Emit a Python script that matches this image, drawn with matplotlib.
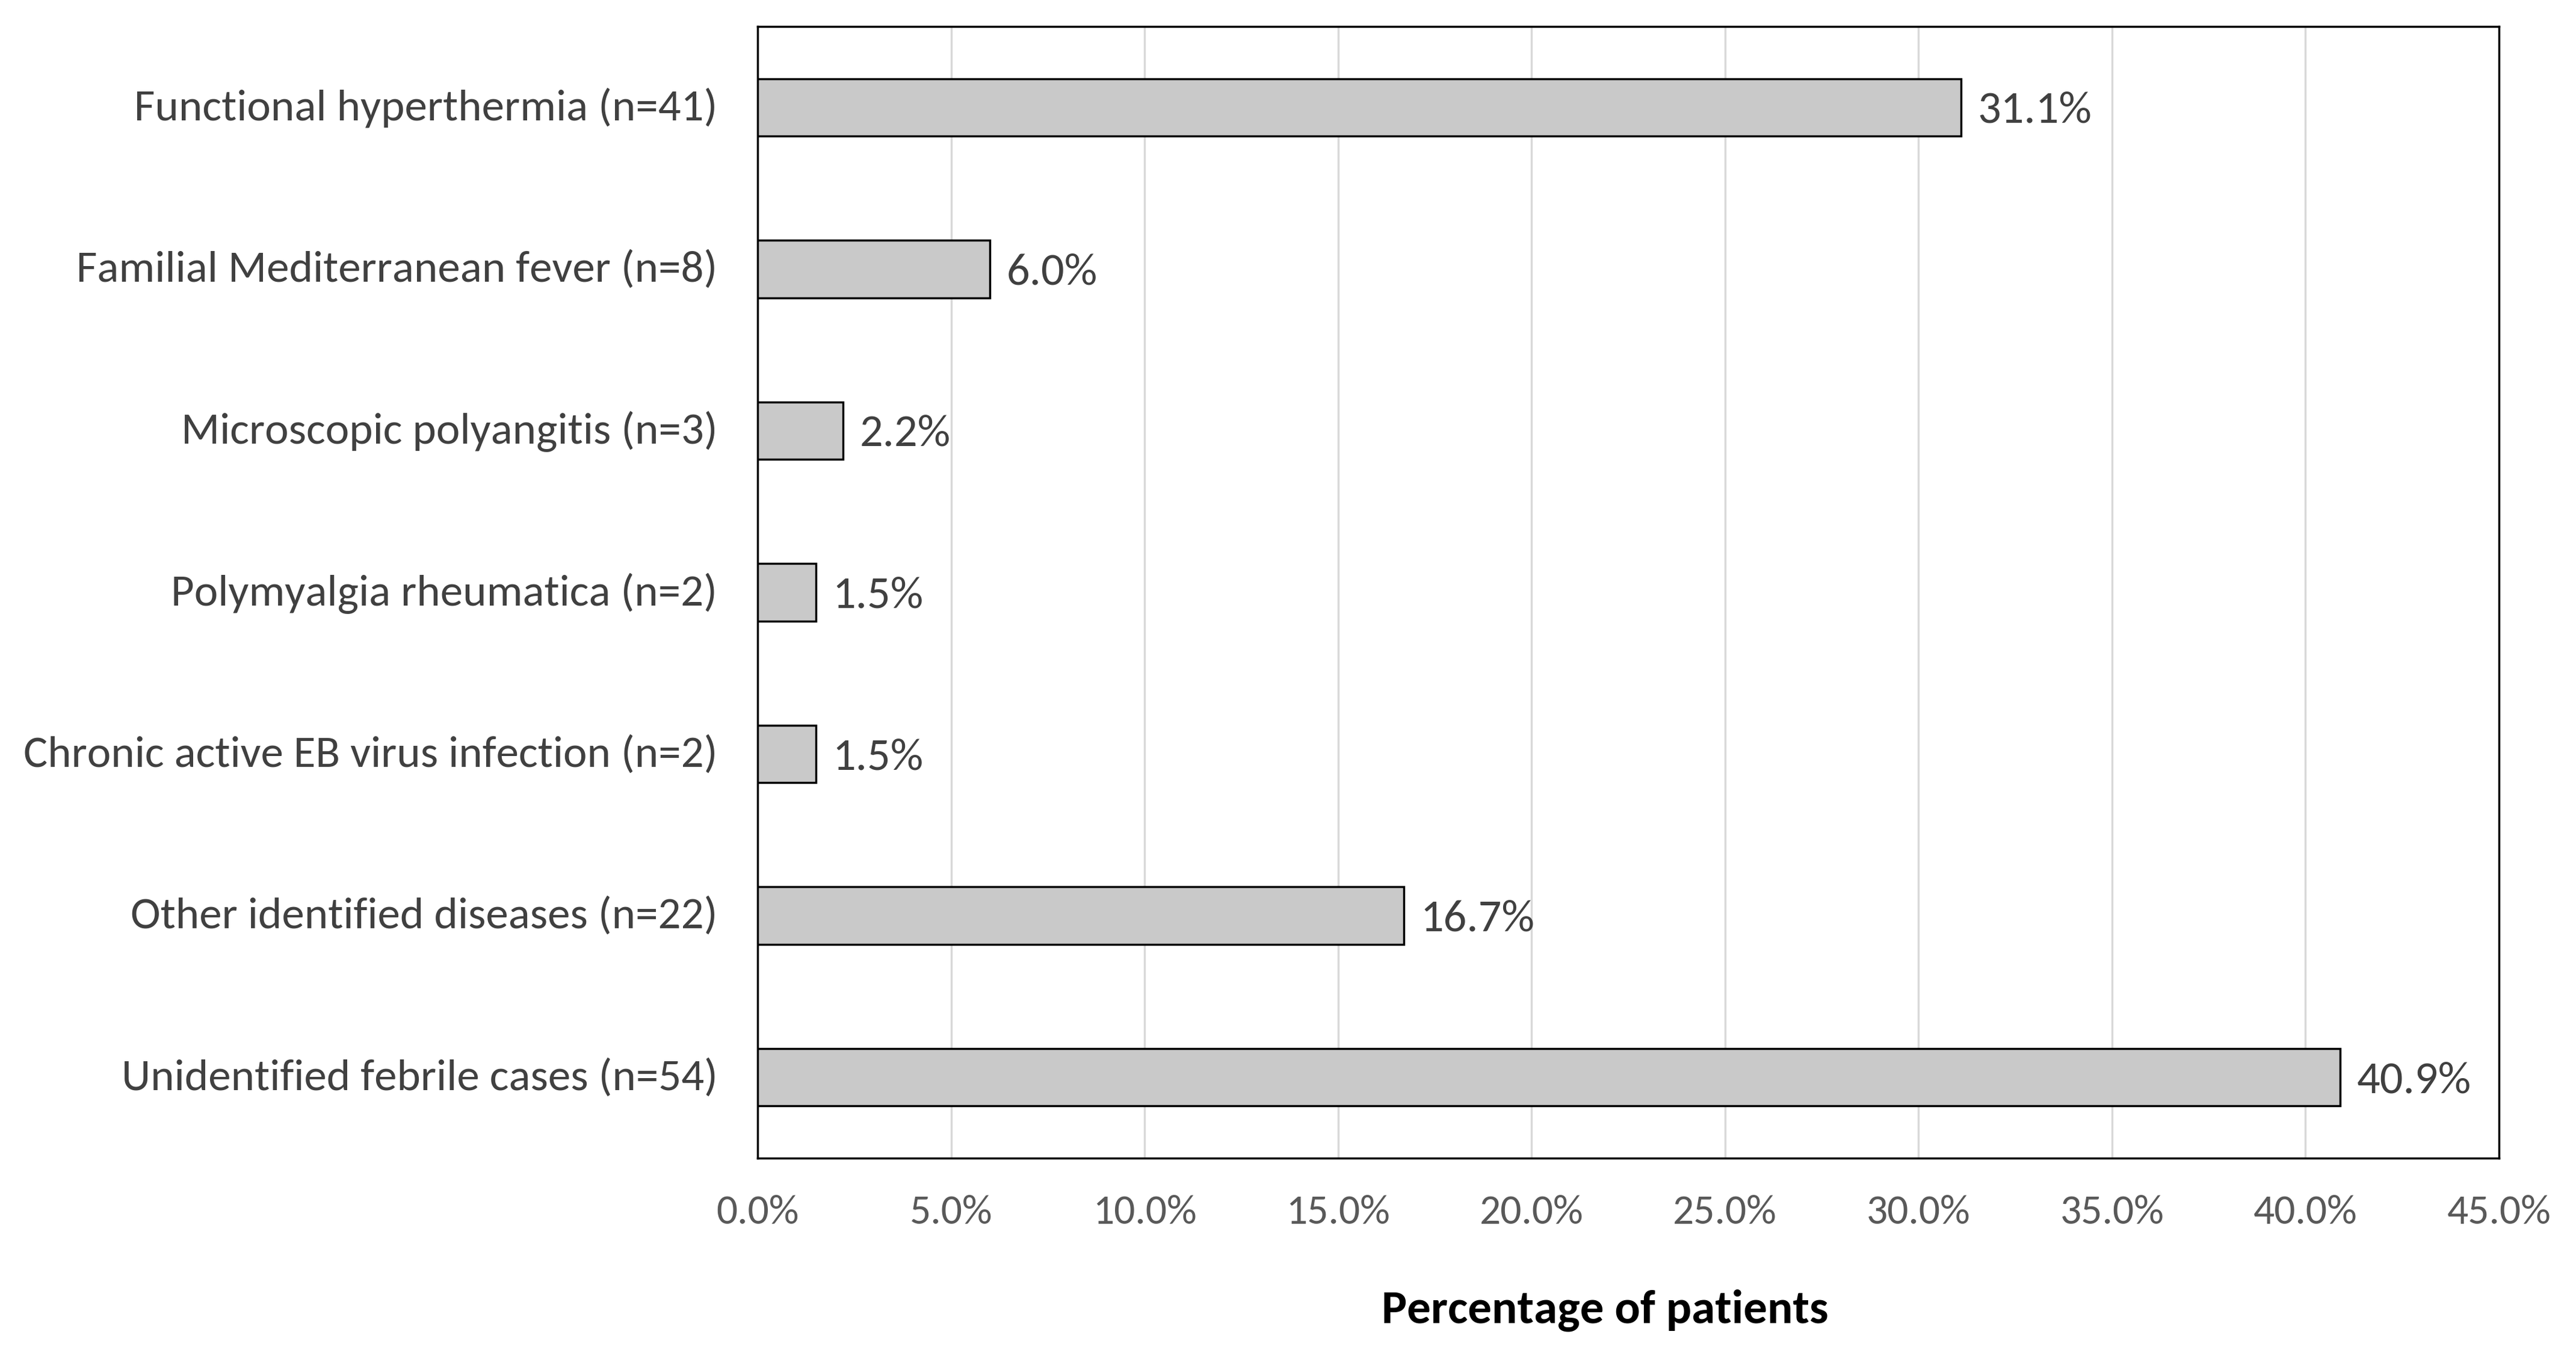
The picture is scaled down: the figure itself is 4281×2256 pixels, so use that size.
import matplotlib.pyplot as plt
import matplotlib.transforms as mtransforms
from matplotlib.ticker import FuncFormatter

plt.rcParams['font.family'] = ['Carlito', 'Lato', 'DejaVu Sans']

# ================== Data ==================

categories = [
    "Functional hyperthermia (n=41)",
    "Familial Mediterranean fever (n=8)",
    "Microscopic polyangitis (n=3)",
    "Polymyalgia rheumatica (n=2)",
    "Chronic active EB virus infection (n=2)",
    "Other identified diseases (n=22)",
    "Unidentified febrile cases (n=54)",
]
percent = [31.1, 6.0, 2.2, 1.5, 1.5, 16.7, 40.9]
xticks = [0, 5, 10, 15, 20, 25, 30, 35, 40, 45]

# ================== Figure ==================

fig = plt.figure(figsize=(42.81, 22.56), dpi=100)
ax = fig.add_axes([0.2941, 0.1472, 0.6760, 0.8333])

ypos = list(range(len(categories)))
ax.barh(ypos, percent, height=0.355, color='#c9c9c9', edgecolor='black',
        linewidth=2.5, zorder=3)

for y, v in zip(ypos, percent):
    ax.annotate(f"{v:.1f}%", xy=(v, y), xytext=(20, -4), textcoords='offset points',
                va='center', ha='left', fontsize=55, color='#404040')

ax.set_xlim(0, 45)
ax.set_ylim(len(categories) - 0.5, -0.5)
ax.set_xticks(xticks)
ax.xaxis.set_major_formatter(FuncFormatter(lambda x, p: f"{x:.1f}%"))
ax.set_yticks(ypos)
ax.set_yticklabels(categories)

ax.grid(axis='x', color='#d9d9d9', linewidth=2.5, zorder=0)
ax.tick_params(axis='x', length=0, pad=44, labelsize=50, labelcolor='#595959')
ax.tick_params(axis='y', length=0, pad=48, labelsize=54, labelcolor='#404040')

# nudge category labels up a little
shift = mtransforms.ScaledTranslation(0, 4 / 72, fig.dpi_scale_trans)
for lbl in ax.get_yticklabels():
    lbl.set_transform(lbl.get_transform() + shift)

for s in ax.spines.values():
    s.set_linewidth(2.5)
    s.set_color('black')

fig.text(0.623, 0.035, "Percentage of patients", ha='center', va='center',
         fontsize=57, fontweight='bold', color='black')

fig.savefig("out.png", dpi=100)
